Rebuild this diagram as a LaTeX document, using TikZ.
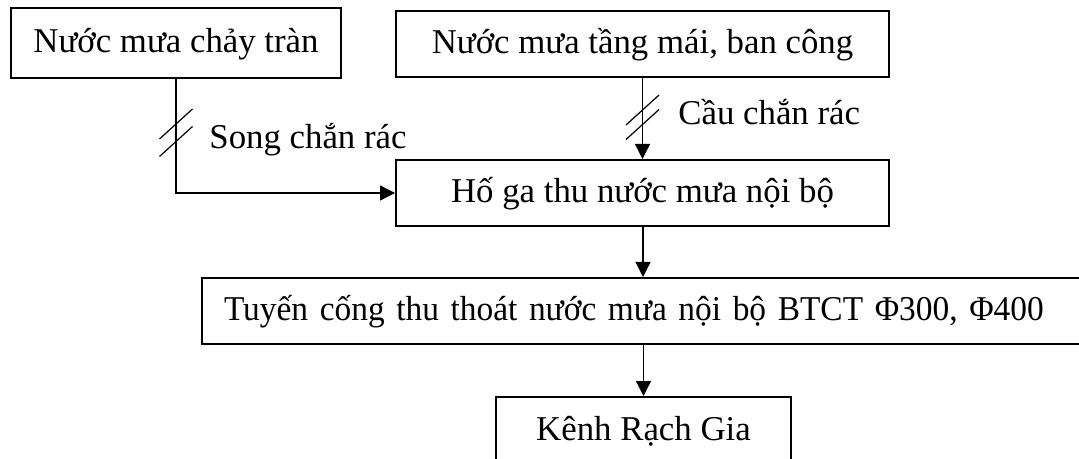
\documentclass[tikz,border=0pt]{standalone}
\usepackage{fontspec}
\setmainfont{Liberation Serif}
\newfontfamily\narrowserif[FakeStretch=0.96]{Liberation Serif}
\usetikzlibrary{arrows.meta,calc}
\begin{document}
\begin{tikzpicture}[x=0.5pt,y=-0.5pt,
  box/.style={draw,line width=1pt,inner sep=0pt,text height=13pt,text depth=3pt,font=\fontsize{17.4}{20}\selectfont},
  arr/.style={line width=0.6pt,-{Triangle[length=7.5pt,width=7.5pt]}},
  lbl/.style={font=\fontsize{17.4}{20}\selectfont,inner sep=0pt,anchor=west},
  slashmark/.style={line width=0.6pt}]
\useasboundingbox (0,0) rectangle (1079,459);
\clip (0,0) rectangle (1079,459);
\node[box,minimum width=165pt,minimum height=35pt] (b1) at (176,43) {Nước mưa chảy tràn};
\node[box,minimum width=246.5pt,minimum height=33pt] (b2) at (642.5,44) {Nước mưa tầng mái, ban công};
\node[box,minimum width=246.5pt,minimum height=33pt] (b3) at (642.5,193) {Hố ga thu nước mưa nội bộ};
\node[box,inner xsep=11pt,text width=419pt,align=left,minimum height=33pt] (b4) at (643,311) {\narrowserif\mbox{Tuyến cống thu thoát nước mưa nội bộ BTCT Φ300, Φ400}};
\node[box,minimum width=147.5pt,minimum height=33pt] (b5) at (643.5,430) {Kênh Rạch Gia};
\draw[arr] (b1.south) |- (b3.west);
\draw[arr] (b2.south) -- (b3.north);
\draw[arr] (b3.south -| b4.north) -- (b4.north);
\draw[arr] (b4.south -| b5.north) -- (b5.north);
\coordinate (k1) at ($(b1.south)+(0,45)$);
\coordinate (k2) at ($(b1.south)+(0,62.5)$);
\coordinate (k3) at ($(b2.south)+(0,32)$);
\coordinate (k4) at ($(b2.south)+(0,46.5)$);
\foreach \k in {k1,k2,k3,k4}
  \draw[slashmark] ($(\k)+(-16.5,15)$) -- ($(\k)+(16.5,-15)$);
\node[lbl] (l1) at (209,140) {Song chắn rác};
\node[lbl] (l2) at (678,112) {Cầu chắn rác};
\end{tikzpicture}
\end{document}
